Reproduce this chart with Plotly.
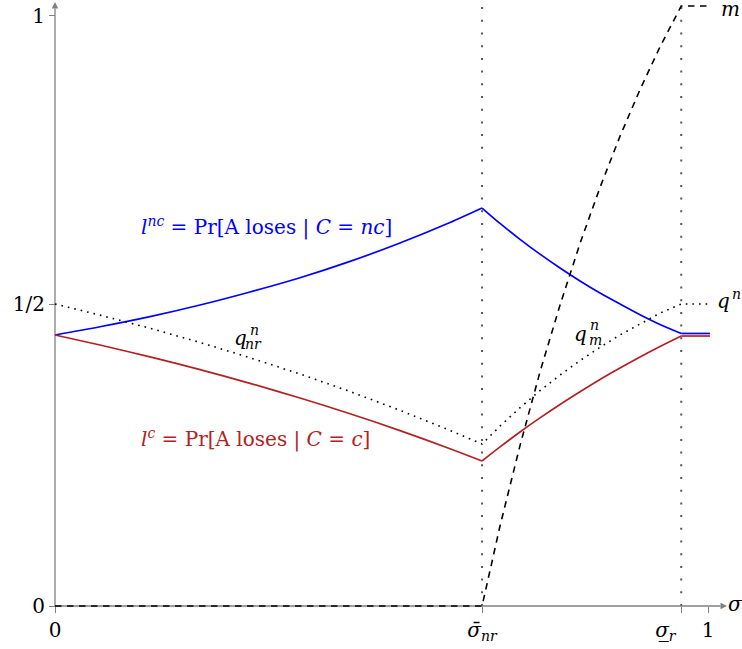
import plotly.graph_objects as go

# ---------------- data (chart units: x in [0,1], y in [0,1]) ----------------
sigma_nr = 0.654
sigma_r = 0.959

x_left = [0, 0.0689, 0.1455, 0.2221, 0.2986, 0.3752, 0.4518, 0.5283, 0.6049, 0.654]
x_right = [0.654, 0.6815, 0.7121, 0.7427, 0.7734, 0.804, 0.8346, 0.8652, 0.8959, 0.9265, 0.959]
x_flat = [0.959, 1.003]
x_flat_q = [0.959, 1.0]

l_nc_left = [0.4487, 0.4623, 0.4791, 0.4983, 0.5199, 0.5435, 0.5705, 0.6010, 0.6349, 0.6589]
l_nc_right = [0.6589, 0.6334, 0.6071, 0.5825, 0.5596, 0.5381, 0.5182, 0.5000, 0.4823, 0.4661, 0.4512]
l_nc_flat = [0.4512, 0.4512]

l_c_left = [0.4487, 0.4321, 0.4124, 0.3914, 0.3687, 0.3444, 0.3184, 0.2904, 0.2604, 0.2401]
l_c_right = [0.2401, 0.2634, 0.2881, 0.3114, 0.3336, 0.3546, 0.3750, 0.3940, 0.4123, 0.4296, 0.4470]
l_c_flat = [0.4470, 0.4470]

q_left = [0.5, 0.4816, 0.4598, 0.4363, 0.4111, 0.3841, 0.3551, 0.3240, 0.2907, 0.2682]
q_right = [0.2682, 0.2978, 0.3283, 0.3565, 0.3823, 0.4063, 0.4283, 0.4487, 0.4675, 0.4849, 0.5]
q_flat = [0.5, 0.5]

m_left = [0.0, 0.0]
x_m_left = [0, 0.654]
m_right = [0.0, 0.1325, 0.2656, 0.3874, 0.4983, 0.6002, 0.6929, 0.7776, 0.8550, 0.9258, 0.9934]
m_flat = [0.9934, 0.9934]

x_tickvals = [0, sigma_nr, sigma_r, 1.0]
x_ticktext = ["0", "<i>σ̄</i><sub><i>nr</i></sub>",
              "<i>σ̲</i><sub><i>r</i></sub>\u00a0\u00a0\u00a0\u00a0\u00a0", "1"]
y_tickvals = [0, 0.5, 0.977]
y_ticktext = ["0", "1/2", "1"]

# ---------------- layout helpers (pixel -> chart units) ----------------
W, H = 742, 649
OX, SX = 55, 653        # px of x=0, px per unit
OY, SY = 606, 604       # px of y=0, px per unit
L, R, T, B = 45, 742, 0, 616   # plot area in px


def X(px):
    return (px - OX) / SX


def Y(py):
    return (OY - py) / SY


FONT = "DejaVu Serif"
FS = 20
BLUE = "#0000ff"
RED = "#b22222"
GRAY = "#808080"

fig = go.Figure()


def seg(xs, ys, color, width, dash=None, spline=True):
    line = dict(color=color, width=width)
    if dash:
        line["dash"] = dash
    if spline:
        line["shape"] = "spline"
        line["smoothing"] = 0.8
    fig.add_trace(go.Scatter(x=xs, y=ys, mode="lines", line=line, hoverinfo="skip"))


for xs, ys in [(x_left, l_nc_left), (x_right, l_nc_right), (x_flat, l_nc_flat)]:
    seg(xs, ys, BLUE, 1.7)
for xs, ys in [(x_left, l_c_left), (x_right, l_c_right), (x_flat, l_c_flat)]:
    seg(xs, ys, RED, 1.7)
seg(x_left + x_right[1:] + x_flat_q[1:], q_left + q_right[1:] + q_flat[1:],
    "black", 1.6, dash="1.6px,5px", spline=False)
seg(x_m_left + x_right[1:] + x_flat_q[1:], m_left + m_right[1:] + m_flat[1:],
    "black", 1.6, dash="6.5px,5.5px", spline=False)

# dotted guide lines
for xv in [sigma_nr, sigma_r]:
    fig.add_shape(type="line", x0=xv, x1=xv, y0=0, y1=Y(0), xref="x", yref="y",
                  line=dict(color="#555555", width=2, dash="2px,10.7px"), layer="below")

# axis lines (below the curves)
fig.add_shape(type="line", x0=0, x1=X(720), y0=0, y1=0, xref="x", yref="y",
              line=dict(color=GRAY, width=1.3), layer="below")
fig.add_shape(type="line", x0=0, x1=0, y0=0, y1=Y(9), xref="x", yref="y",
              line=dict(color=GRAY, width=1.3), layer="below")

ann = []
# arrow heads
ann.append(dict(x=X(727), y=0, ax=X(719), ay=0, xref="x", yref="y", axref="x", ayref="y",
                text="", showarrow=True, arrowhead=2, arrowsize=1, arrowwidth=1.3,
                arrowcolor=GRAY, standoff=0))
ann.append(dict(x=0, y=Y(2), ax=0, ay=Y(10), xref="x", yref="y", axref="x", ayref="y",
                text="", showarrow=True, arrowhead=2, arrowsize=1, arrowwidth=1.3,
                arrowcolor=GRAY, standoff=0))


def label(px, py, text, color="black", size=FS, xanchor="center"):
    ann.append(dict(x=X(px), y=Y(py), xref="x", yref="y", text=text, showarrow=False,
                    xanchor=xanchor, yanchor="middle",
                    font=dict(family=FONT, size=size, color=color)))


label(266, 226, "<i>l</i><sup><i>nc</i></sup> = Pr[A loses | <i>C</i> = <i>nc</i>]", BLUE)
label(255, 438, "<i>l</i><sup><i>c</i></sup> = Pr[A loses | <i>C</i> = <i>c</i>]", RED)
label(240, 338, "<i>q</i>")
label(248, 330, "<i>n</i>", size=14, xanchor="left")
label(243, 344, "<i>nr</i>", size=14, xanchor="left")
label(580, 334, "<i>q</i>")
label(588, 325, "<i>n</i>", size=14, xanchor="left")
label(587, 340, "<i>m</i>", size=14, xanchor="left")
label(730, 9, "<i>m</i>")
label(723, 301, "<i>q</i>")
label(730, 294, "<i>n</i>", size=14, xanchor="left")
label(735, 604, "<i>σ</i>")

axis_common = dict(showgrid=False, zeroline=False, showline=False, automargin=False,
                   tickmode="array", ticks="outside", ticklen=6, tickwidth=1.2,
                   tickcolor=GRAY, tickangle=0,
                   tickfont=dict(family=FONT, size=FS, color="black"),
                   anchor="free", fixedrange=True)

fig.update_layout(
    template="none",
    width=W, height=H,
    margin=dict(l=L, r=W - R, t=T, b=H - B, pad=0),
    paper_bgcolor="white", plot_bgcolor="white",
    showlegend=False, hovermode=False,
    annotations=ann,
    xaxis=dict(range=[X(L), X(R)], tickvals=x_tickvals, ticktext=x_ticktext,
               position=(B - OY) / (B - T), **axis_common),
    yaxis=dict(range=[Y(B), Y(T)], tickvals=y_tickvals, ticktext=y_ticktext,
               position=(OX - L) / (R - L), **axis_common),
)

# the page's default 8px body margin would shift the figure; remove it
fig.write_html("out.html", config={"displayModeBar": False},
               post_script="document.body.style.margin='0px';")
